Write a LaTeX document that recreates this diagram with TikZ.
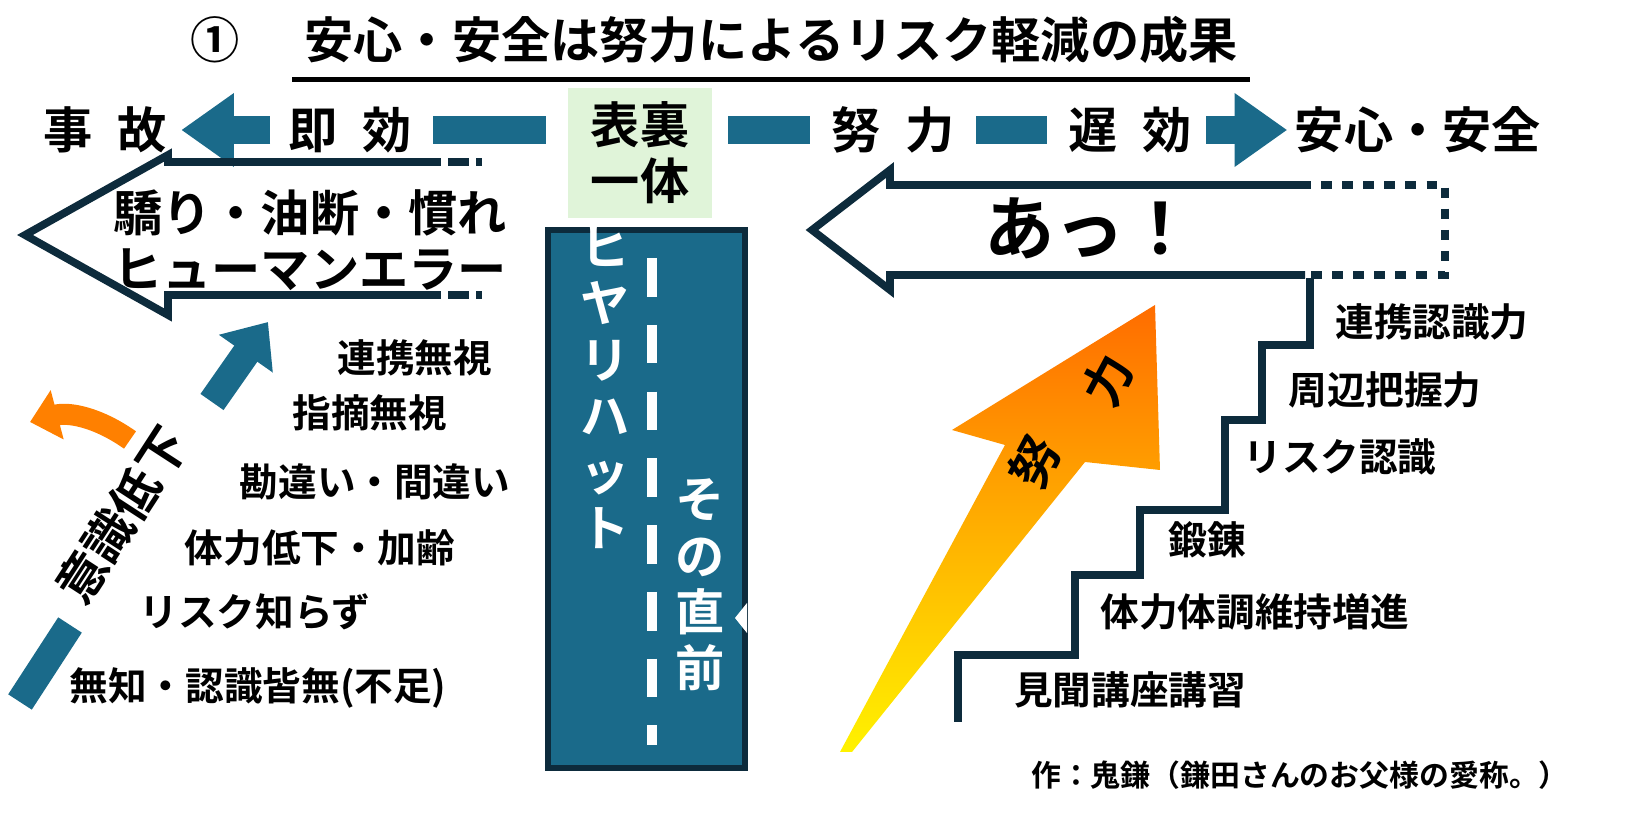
\documentclass[tikz,border=0pt]{standalone}
\usepackage{fontspec}
\setmainfont{Noto Sans CJK JP}[BoldFont={Noto Sans CJK JP Bold}]
\usetikzlibrary{positioning,arrows.meta}
\definecolor{teal}{HTML}{1A6A8A}
\definecolor{navy}{HTML}{0D2B3C}
\definecolor{pale}{HTML}{E0F4D9}
\tikzset{
  big/.style={font=\bfseries\fontsize{14}{16}\selectfont},
  item/.style={font=\bfseries\fontsize{11}{13}\selectfont},
  bar/.style={teal, line width=8pt},
  outline/.style={navy, line width=2.2pt},
}
\begin{document}
\begin{tikzpicture}[x=0.1mm,y=-0.1mm]
    \useasboundingbox (0,0) rectangle (1634,840);

    % Title
    \node[big] (num) at (215,40) {①};
    \node[big, anchor=west] (title) at (292,40) {安心・安全は努力によるリスク軽減の成果};
    \draw[line width=1.2pt] ([yshift=-1pt]title.south west) -- ([yshift=-1pt]title.south east);

    % Top row
    \node[big, inner sep=1pt] (jiko) at (105,130) {事\enspace 故};
    \node[big, inner sep=1pt] (sokko) at (350,130) {即\enspace 効};
    \fill[pale] (568,88) rectangle (712,218);
    \node[big, align=center] (ura) at (640,153) {表裏\\一体};
    \node[big, inner sep=1pt] (doryoku) at (893,130) {努\enspace 力};
    \node[big, inner sep=1pt] (chikou) at (1130,130) {遅\enspace 効};
    \node[big, inner sep=1pt] (anzen) at (1418,130) {安心・安全};
    \draw[bar, -{Triangle[length=15pt,width=20pt]}] ([xshift=-4pt]sokko.west) -- ([xshift=3pt]jiko.east);
    \draw[bar] ([xshift=5pt]sokko.east) -- (546,130);
    \draw[bar] (728,130) -- ([xshift=-5pt]doryoku.west);
    \draw[bar] ([xshift=5pt]doryoku.east) -- ([xshift=-5pt]chikou.west);
    \draw[bar, -{Triangle[length=15pt,width=20pt]}] ([xshift=3pt]chikou.east) -- ([xshift=-1pt]anzen.west);

    % Left hollow arrow
    \draw[outline] (420,162) -- (168,162) -- (168,155) -- (25,235) -- (168,315) -- (168,295) -- (420,295);
    \draw[outline, dash pattern=on 6pt off 2pt] (420,162) -- (482,162) (420,295) -- (482,295);
    \node[big, align=center] (ore) at (310,240) {驕り・油断・慣れ\\ヒューマンエラー};

    % Right hollow arrow
    \draw[outline] (1300,185) -- (890,185) -- (890,170) -- (812,230) -- (890,290) -- (890,275) -- (1305,275);
    \draw[outline, dashed] (1300,185) -- (1445,185) -- (1445,275) -- (1305,275);
    \node[font=\bfseries\fontsize{20}{22}\selectfont] (aa) at (1090,228) {あっ！};

    % Centre column
    \draw[navy, line width=1.5pt, fill=teal] (548,230) rectangle (745,768);
    \draw[white, line width=3pt, dash pattern=on 11pt off 8pt] (652,258) -- (652,745);
    \node[big, white, align=center] (hiyari) at (605,388) {ヒ\\ヤ\\リ\\ハ\\ッ\\ト};
    \node[big, white, align=center] (chokuzen) at (700,585) {そ\\の\\直\\前};
    \fill[white] (747,603) -- (735,618) -- (747,633) -- cycle;

    % Orange arrow
    \shade[top color=orange!85!red, bottom color=yellow!90!orange]
        (840,752) -- (1005,445) -- (952,430) -- (1155,305) -- (1160,470) -- (1085,462) -- (852,752) -- cycle;
    \node[big, rotate=62] (do) at (1035,462) {努};
    \node[big, rotate=62] (ryoku) at (1108,380) {力};

    % Stairs
    \draw[outline] (958,722) |- (1075,655) |- (1140,575) |- (1225,510) |- (1262,420) |- (1310,345) -- (1310,278);
    \node[item] (renkei) at (1432,322) {連携認識力};
    \node[item] (shuhen) at (1385,390) {周辺把握力};
    \node[item] (risuku) at (1340,457) {リスク認識};
    \node[item] (tanren) at (1207,540) {鍛錬};
    \node[item] (tairyoku) at (1255,612) {体力体調維持増進};
    \node[item] (kenbun) at (1130,690) {見聞講座講習};

    % Left list
    \node[item] (r1) at (415,358) {連携無視};
    \node[item] (r2) at (370,413) {指摘無視};
    \node[item] (r3) at (375,482) {勘違い・間違い};
    \node[item] (r4) at (320,548) {体力低下・加齢};
    \node[item] (r5) at (255,612) {リスク知らず};
    \node[item] (r6) at (258,688) {無知・認識皆無(不足)};

    % Awareness arrow
    \coordinate (low) at (20,702);
    \coordinate (lowend) at (70,625);
    \node[big, rotate=57, inner sep=0pt] (ishiki) at (122,515) {意識低下};
    \draw[bar] (low) -- (lowend);
    \draw[bar, -{Triangle[length=11pt,width=18pt]}] (212,402) -- (268,322);
    \draw[orange, line width=6pt, -{Triangle[length=8pt,width=14pt]}] (130,440) to[bend right=25] (30,422);

    % Credit
    \node[font=\bfseries\fontsize{8.5}{10}\selectfont] (credit) at (1300,775) {作：鬼鎌（鎌田さんのお父様の愛称。）};
\end{tikzpicture}
\end{document}
